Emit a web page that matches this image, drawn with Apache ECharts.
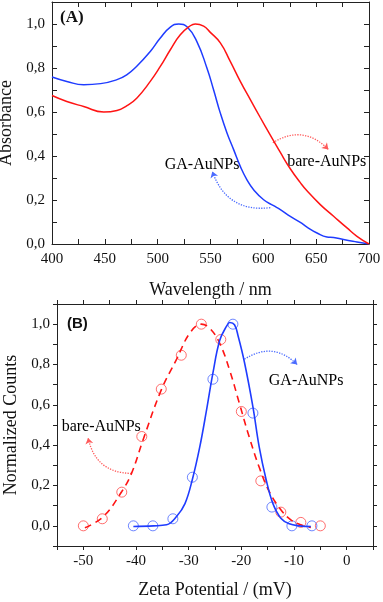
<!DOCTYPE html>
<html>
<head>
<meta charset="utf-8">
<title>AuNPs absorbance and zeta potential</title>
<script src="https://cdn.jsdelivr.net/npm/echarts@6/dist/echarts.min.js"></script>
<style>
  html, body { margin: 0; padding: 0; background: #fff; }
  #chart { width: 383px; height: 602px; }
</style>
</head>
<body>
<div id="chart"></div>
<script>
// (A) UV-vis spectra
const waveGA = [400, 414, 430, 446, 461.5, 471, 480, 493, 502.5, 512, 520, 528, 537, 546.6, 552.9, 559.3, 565.6, 571.9, 578.2, 584.5, 590.8, 600.3, 609.7, 616.1, 625.5, 635, 641.3, 650.8, 660.2, 666.5, 675.9, 688.6, 700];
const absGA = [0.759, 0.739, 0.724, 0.729, 0.747, 0.77, 0.807, 0.875, 0.936, 0.986, 1.0, 0.986, 0.921, 0.80, 0.701, 0.595, 0.505, 0.429, 0.353, 0.292, 0.247, 0.201, 0.174, 0.156, 0.126, 0.098, 0.077, 0.05, 0.032, 0.03, 0.02, 0.009, 0];
const waveBare = [400, 414, 430, 449, 461.5, 471, 480.4, 493, 502.5, 512, 521.4, 530.9, 535.6, 543.5, 549.8, 559.3, 568.7, 578.2, 587.7, 597.1, 606.6, 616.1, 625.5, 635, 641.3, 653.9, 666.5, 679.2, 688.6, 700];
const absBare = [0.675, 0.648, 0.625, 0.60, 0.607, 0.629, 0.664, 0.739, 0.807, 0.883, 0.951, 0.992, 1.0, 0.99, 0.962, 0.914, 0.83, 0.739, 0.656, 0.575, 0.495, 0.416, 0.342, 0.279, 0.242, 0.179, 0.126, 0.073, 0.035, 0];

// (B) zeta potential distributions: measured points
const zetaBareObs = [-50, -46.4, -42.7, -38.9, -35.2, -31.4, -27.6, -23.9, -20.0, -16.3, -12.5, -8.7, -5.0];
const countBareObs = [0, 0.035, 0.167, 0.443, 0.678, 0.846, 1.0, 0.924, 0.567, 0.223, 0.068, 0.017, 0];
const zetaGAObs = [-40.5, -36.8, -33.0, -29.3, -25.4, -21.6, -17.8, -14.2, -10.4, -6.6];
const countGAObs = [0, 0, 0.035, 0.241, 0.727, 1.0, 0.559, 0.093, 0, 0];

// (B) fitted curves
const zetaBareFit = [-49.7, -46.2, -42.7, -40.85, -38.65, -35.2, -32.35, -29.8, -27.6, -26.0, -24.1, -22.2, -20.4, -18.5, -16.6, -14.7, -12.5, -10.6, -8.7, -6.8];
const countBareFit = [-0.01, 0.046, 0.17, 0.26, 0.427, 0.674, 0.823, 0.955, 1.0, 0.98, 0.905, 0.77, 0.61, 0.44, 0.29, 0.17, 0.08, 0.03, 0.005, -0.008];
const zetaGAFit = [-40.5, -36.7, -34.2, -32.3, -30.7, -29.3, -27.9, -26.6, -25.4, -24.1, -22.8, -22.2, -21.3, -20.6, -19.4, -17.8, -16.6, -15.3, -14.0, -12.5, -10.9, -9.0, -6.8];
const countGAFit = [-0.003, 0, 0.005, 0.046, 0.11, 0.23, 0.39, 0.575, 0.757, 0.92, 0.99, 1.008, 0.997, 0.94, 0.81, 0.59, 0.39, 0.23, 0.11, 0.038, 0.01, 0, -0.003];

// annotations (data coordinates)
const labelsA = [{ name: 'GA-AuNPs', value: [542, 0.36] }, { name: 'bare-AuNPs', value: [660, 0.374] }];
const arrowsA = [
  { color: '#ff5a5a', coords: [[609, 0.46], [661.5, 0.43]] },
  { color: '#4a6bff', coords: [[606.6, 0.165], [551.7, 0.33]] }
];
const labelsB = [{ name: 'GA-AuNPs', value: [-7.7, 0.72] }, { name: 'bare-AuNPs', value: [-46.6, 0.49] }];
const arrowsB = [
  { color: '#4a6bff', coords: [[-19.4, 0.826], [-9.4, 0.80]] },
  { color: '#ff5a5a', coords: [[-40.85, 0.26], [-49.1, 0.436]] }
];

const RED = '#ff1414';
const BLUE = '#1f3cff';
const SERIF = '"Liberation Serif", "Times New Roman", serif';

const zip = (xs, ys) => xs.map((x, i) => [x, ys[i]]);

const commaLabel = (v) => {
  const k = Math.round(v * 10);
  if (k % 2 !== 0) return '';
  return (k / 10).toFixed(1).replace('.', ',');
};

function baseAxis(inside, extra) {
  return Object.assign({
    type: 'value',
    axisLine: { show: true, onZero: false, lineStyle: { color: '#222', width: 1 } },
    axisTick: { show: true, inside: inside, length: inside ? 5 : 4, lineStyle: { color: '#222' } },
    splitLine: { show: false },
    axisLabel: { show: false }
  }, extra);
}

const chart = echarts.init(document.getElementById('chart'));

const tickLabel = { show: true, color: '#111', fontFamily: SERIF, fontSize: 15 };
const nameStyle = { color: '#111', fontFamily: SERIF, fontSize: 18 };
const noteLabel = {
  show: true, position: 'inside', formatter: '{b}', color: '#000',
  fontFamily: SERIF, fontSize: 16, textBorderWidth: 0, textBorderColor: 'transparent', opacity: 1
};

const option = {
  animation: false,
  backgroundColor: '#fff',
  grid: [
    { left: 52, top: 2, width: 317, height: 242, outerBoundsMode: 'none', containLabel: false },
    { left: 57, top: 304, width: 316, height: 242, outerBoundsMode: 'none', containLabel: false }
  ],
  xAxis: [
    baseAxis(true, {
      gridIndex: 0, position: 'bottom', min: 400, max: 700, interval: 25,
      axisLabel: Object.assign({}, tickLabel, { margin: 8, formatter: (v) => (Math.round(v) % 50 === 0 ? String(v) : '') }),
      name: 'Wavelength / nm', nameLocation: 'middle', nameGap: 37, nameTextStyle: nameStyle
    }),
    baseAxis(true, { gridIndex: 0, position: 'top', min: 400, max: 700, interval: 25 }),
    baseAxis(false, {
      gridIndex: 1, position: 'bottom', min: -55, max: 5, interval: 5,
      axisLabel: Object.assign({}, tickLabel, { margin: 8, formatter: (v) => (Math.round(v) % 10 === 0 ? String(Math.round(v)) : '') }),
      name: 'Zeta Potential / (mV)', nameLocation: 'middle', nameGap: 35, nameTextStyle: nameStyle
    }),
    baseAxis(false, { gridIndex: 1, position: 'top', min: -55, max: 5, interval: 5 })
  ],
  yAxis: [
    baseAxis(true, {
      gridIndex: 0, position: 'left', min: 0, max: 1.1, interval: 0.1,
      axisLabel: Object.assign({}, tickLabel, { margin: 7, formatter: commaLabel }),
      name: 'Absorbance', nameLocation: 'middle', nameGap: 28, nameTextStyle: nameStyle
    }),
    baseAxis(true, { gridIndex: 0, position: 'right', min: 0, max: 1.1, interval: 0.1 }),
    baseAxis(false, {
      gridIndex: 1, position: 'left', min: -0.1, max: 1.1, interval: 0.1,
      axisLabel: Object.assign({}, tickLabel, { margin: 7, formatter: commaLabel }),
      name: 'Normalized Counts', nameLocation: 'middle', nameGap: 29, nameTextStyle: nameStyle
    }),
    baseAxis(false, { gridIndex: 1, position: 'right', min: -0.1, max: 1.1, interval: 0.1 })
  ],
  series: [
    // (A)
    {
      name: 'GA-AuNPs', type: 'line', xAxisIndex: 0, yAxisIndex: 0,
      data: zip(waveGA, absGA), smooth: 0.5, showSymbol: false,
      lineStyle: { color: BLUE, width: 1.5 }
    },
    {
      name: 'bare-AuNPs', type: 'line', xAxisIndex: 0, yAxisIndex: 0,
      data: zip(waveBare, absBare), smooth: 0.5, showSymbol: false,
      lineStyle: { color: RED, width: 1.5 }
    },
    {
      type: 'lines', coordinateSystem: 'cartesian2d', xAxisIndex: 0, yAxisIndex: 0,
      symbol: ['none', 'arrow'], symbolSize: 6,
      data: arrowsA.map((a) => ({ coords: a.coords, lineStyle: { color: a.color } })),
      lineStyle: { type: 'dotted', width: 1.3, curveness: 0.4, opacity: 1 }
    },
    {
      type: 'scatter', xAxisIndex: 0, yAxisIndex: 0, symbolSize: 0,
      data: labelsA, label: noteLabel
    },
    // (B)
    {
      name: 'bare-AuNPs fit', type: 'line', xAxisIndex: 2, yAxisIndex: 2,
      data: zip(zetaBareFit, countBareFit), smooth: 0.4, showSymbol: false,
      lineStyle: { color: RED, width: 1.6, type: [7, 5] }
    },
    {
      name: 'GA-AuNPs fit', type: 'line', xAxisIndex: 2, yAxisIndex: 2,
      data: zip(zetaGAFit, countGAFit), smooth: 0.4, showSymbol: false,
      lineStyle: { color: BLUE, width: 1.6 }
    },
    {
      name: 'bare-AuNPs', type: 'scatter', xAxisIndex: 2, yAxisIndex: 2,
      data: zip(zetaBareObs, countBareObs), symbol: 'circle', symbolSize: 10,
      itemStyle: { color: 'rgba(0,0,0,0)', borderColor: '#ff4a4a', borderWidth: 1 }
    },
    {
      name: 'GA-AuNPs', type: 'scatter', xAxisIndex: 2, yAxisIndex: 2,
      data: zip(zetaGAObs, countGAObs), symbol: 'circle', symbolSize: 10,
      itemStyle: { color: 'rgba(0,0,0,0)', borderColor: '#4a68ff', borderWidth: 1 }
    },
    {
      type: 'lines', coordinateSystem: 'cartesian2d', xAxisIndex: 2, yAxisIndex: 2,
      symbol: ['none', 'arrow'], symbolSize: 6,
      data: arrowsB.map((a) => ({ coords: a.coords, lineStyle: { color: a.color } })),
      lineStyle: { type: 'dotted', width: 1.3, curveness: 0.4, opacity: 1 }
    },
    {
      type: 'scatter', xAxisIndex: 2, yAxisIndex: 2, symbolSize: 0,
      data: labelsB, label: noteLabel
    }
  ],
  graphic: [
    { type: 'text', left: 60, top: 9, style: { text: '(A)', fill: '#111', font: 'bold 17px ' + SERIF } },
    { type: 'text', left: 67, top: 316, style: { text: '(B)', fill: '#111', font: 'bold 15px "Liberation Sans", Arial, sans-serif' } }
  ]
};

chart.setOption(option);
</script>
</body>
</html>
